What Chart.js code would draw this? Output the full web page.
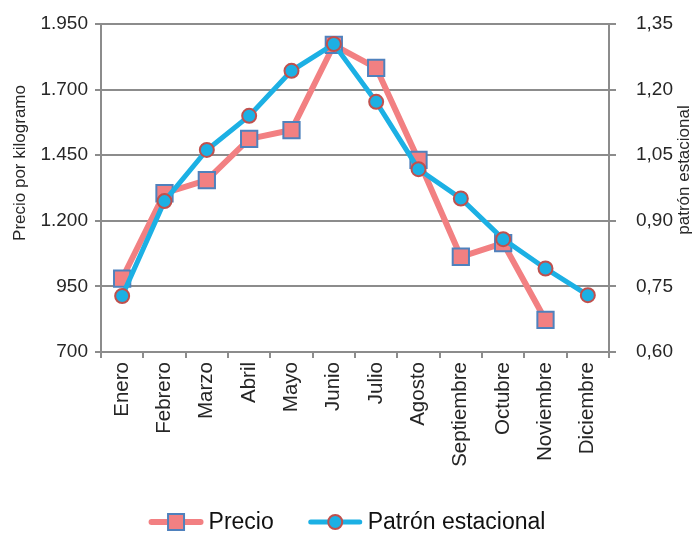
<!DOCTYPE html>
<html lang="es">
<head>
<meta charset="utf-8">
<title>Precio y patrón estacional</title>
<script src="https://cdn.jsdelivr.net/npm/chart.js@4.4.1/dist/chart.umd.min.js"></script>
<style>
  html, body { margin: 0; padding: 0; background: #fff; }
  #wrap { width: 694px; height: 533px; }
</style>
</head>
<body>
<div id="wrap"><canvas id="grafico" width="694" height="533"></canvas></div>
<script>
// datos
const meses = ['Enero', 'Febrero', 'Marzo', 'Abril', 'Mayo', 'Junio', 'Julio',
               'Agosto', 'Septiembre', 'Octubre', 'Noviembre', 'Diciembre'];
const precio = [980, 1305, 1355, 1512, 1546, 1870, 1783, 1432, 1063, 1115, 822, null];
const patron = [0.728, 0.945, 1.062, 1.140, 1.243, 1.304, 1.172, 1.018, 0.951, 0.858, 0.791, 0.730];
const ticksPrecio = [700, 950, 1200, 1450, 1700, 1950];
const ticksPatron = [0.60, 0.75, 0.90, 1.05, 1.20, 1.35];

const ROSA = '#f28082';
const AZUL_BORDE = '#4f81bd';
const CELESTE = '#1cb0e4';
const ROJO_BORDE = '#c0504d';
const GRIS = '#8c8c8c';
const TEXTO = '#262626';
const FUENTE = "'Liberation Sans', Arial, sans-serif";

// formato con punto de miles: 1950 -> 1.950
const fmtMiles = v => String(v).replace(/\B(?=(\d{3})+(?!\d))/g, '.');
const fmtDecimal = v => v.toFixed(2).replace('.', ',');

// títulos de los ejes (algo por encima del centro, como en el original)
const titulosEjes = {
    id: 'titulosEjes',
    afterDraw(chart) {
        const ctx = chart.ctx;
        ctx.save();
        ctx.font = `17px ${FUENTE}`;
        ctx.fillStyle = TEXTO;
        ctx.textAlign = 'center';
        ctx.textBaseline = 'middle';
        ctx.translate(20, 163);
        ctx.rotate(-Math.PI / 2);
        ctx.fillText('Precio por kilogramo', 0, 0);
        ctx.restore();

        ctx.save();
        ctx.font = `17px ${FUENTE}`;
        ctx.fillStyle = TEXTO;
        ctx.textAlign = 'center';
        ctx.textBaseline = 'middle';
        ctx.translate(684, 170);
        ctx.rotate(-Math.PI / 2);
        ctx.fillText('patrón estacional', 0, 0);
        ctx.restore();
    }
};

// leyenda abajo: línea con marcador en el medio
const leyenda = {
    id: 'leyenda',
    afterDraw(chart) {
        const ctx = chart.ctx;
        const ds = chart.data.datasets;
        const y = 522, simbolo = 55, separa = 5, entre = 34;
        ctx.save();
        ctx.font = `23px ${FUENTE}`;
        const anchos = ds.map(d => ctx.measureText(d.label).width);
        const total = ds.length * (simbolo + separa) + anchos.reduce((a, b) => a + b, 0) + entre * (ds.length - 1);
        let x = (chart.width - total) / 2;

        ds.forEach((d, i) => {
            ctx.strokeStyle = d.borderColor;
            ctx.lineWidth = d.borderWidth;
            ctx.lineCap = 'round';
            ctx.beginPath();
            ctx.moveTo(x + 3, y);
            ctx.lineTo(x + simbolo - 3, y);
            ctx.stroke();

            const cx = x + simbolo / 2;
            ctx.fillStyle = d.pointBackgroundColor;
            ctx.strokeStyle = d.pointBorderColor;
            ctx.lineWidth = d.pointBorderWidth;
            ctx.beginPath();
            if (d.pointStyle === 'rect') {
                ctx.rect(cx - 8, y - 8, 16, 16);
            } else {
                ctx.arc(cx, y, d.pointRadius, 0, Math.PI * 2);
            }
            ctx.fill();
            ctx.stroke();

            ctx.fillStyle = '#111';
            ctx.textAlign = 'left';
            ctx.textBaseline = 'middle';
            ctx.fillText(d.label, x + simbolo + separa, y + 1);
            x += simbolo + separa + anchos[i] + entre;
        });
        ctx.restore();
    }
};

// ancho fijo del eje y sin el margen extra que añade el padding de las etiquetas
const fijarEje = ancho => s => {
    s.width = ancho;
    s.paddingTop = 0;
    s.paddingBottom = 0;
};

const ctx = document.getElementById('grafico').getContext('2d');
const grafico = new Chart(ctx, {
    type: 'line',
    data: {
        labels: meses,
        datasets: [
            {
                label: 'Precio',
                data: precio,
                yAxisID: 'y',
                order: 2,
                borderColor: ROSA,
                borderWidth: 6,
                tension: 0,
                pointStyle: 'rect',
                pointRadius: 11.5,
                pointHoverRadius: 11.5,
                pointBackgroundColor: ROSA,
                pointBorderColor: AZUL_BORDE,
                pointBorderWidth: 2
            },
            {
                label: 'Patrón estacional',
                data: patron,
                yAxisID: 'y1',
                order: 1,
                borderColor: CELESTE,
                borderWidth: 5,
                tension: 0,
                pointStyle: 'circle',
                pointRadius: 7,
                pointHoverRadius: 7,
                pointBackgroundColor: CELESTE,
                pointBorderColor: ROJO_BORDE,
                pointBorderWidth: 2
            }
        ]
    },
    options: {
        responsive: false,
        animation: false,
        layout: { padding: { top: 24, left: 0, right: 0, bottom: 41 } },
        plugins: {
            legend: { display: false },
            tooltip: { enabled: false }
        },
        scales: {
            x: {
                type: 'category',
                offset: true,
                grid: { offset: true, drawOnChartArea: false, tickLength: 6, color: GRIS, lineWidth: 2 },
                border: { color: GRIS, width: 2 },
                ticks: {
                    autoSkip: false,
                    minRotation: 90,
                    maxRotation: 90,
                    padding: 4,
                    color: TEXTO,
                    font: { size: 20.5, family: FUENTE }
                },
                afterFit: s => { s.height = 140; }
            },
            y: {
                position: 'left',
                min: 700,
                max: 1950,
                afterBuildTicks: s => { s.ticks = ticksPrecio.map(v => ({ value: v })); },
                grid: { color: GRIS, lineWidth: 2, tickLength: 6 },
                border: { color: GRIS, width: 2 },
                ticks: {
                    padding: 7,
                    color: TEXTO,
                    font: { size: 19, family: FUENTE },
                    callback: v => fmtMiles(v)
                },
                afterFit: fijarEje(101)
            },
            y1: {
                position: 'right',
                min: 0.60,
                max: 1.35,
                afterBuildTicks: s => { s.ticks = ticksPatron.map(v => ({ value: v })); },
                grid: { drawOnChartArea: false, color: GRIS, lineWidth: 2, tickLength: 7 },
                border: { color: GRIS, width: 2 },
                ticks: {
                    padding: 20,
                    color: TEXTO,
                    font: { size: 19, family: FUENTE },
                    callback: v => fmtDecimal(v)
                },
                afterFit: fijarEje(85)
            }
        }
    },
    plugins: [titulosEjes, leyenda]
});
</script>
</body>
</html>
